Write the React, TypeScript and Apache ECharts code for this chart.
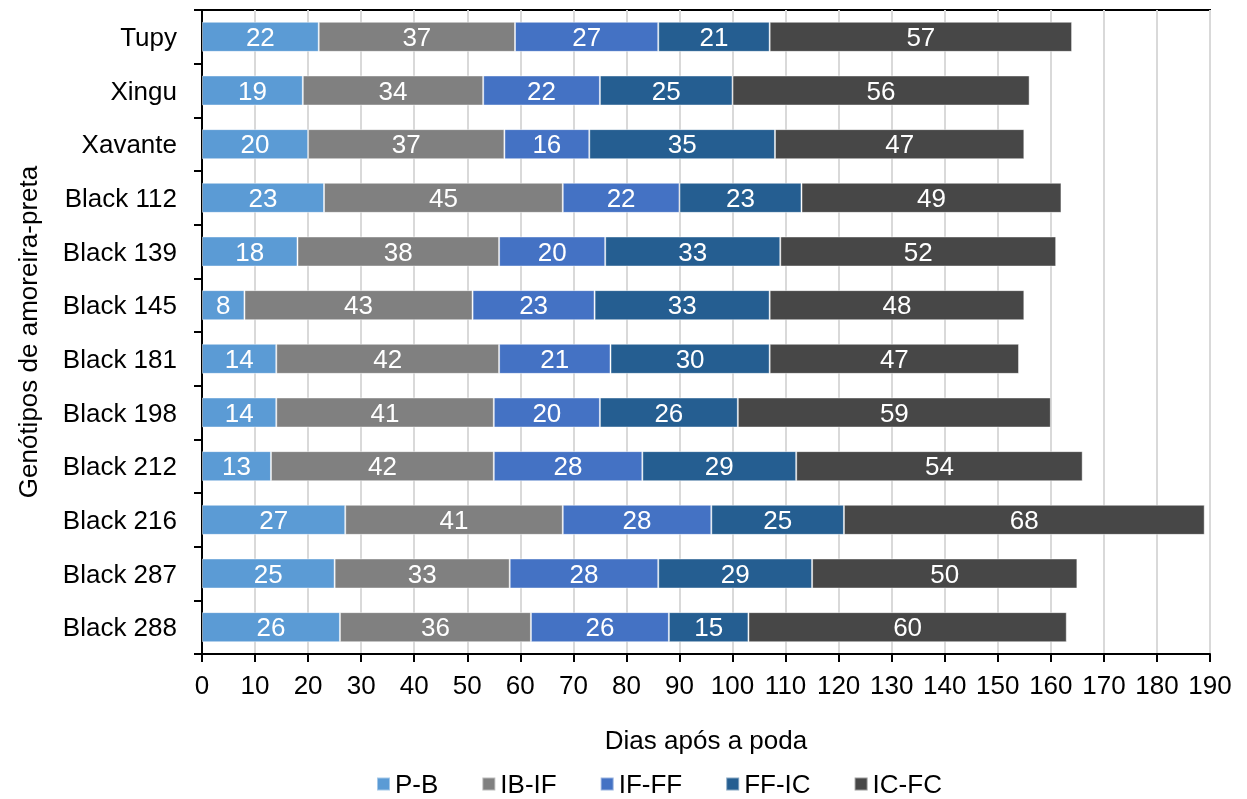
import React, { useEffect, useRef } from "react";
import * as echarts from "echarts";

const categories = ["Tupy", "Xingu", "Xavante", "Black 112", "Black 139", "Black 145", "Black 181", "Black 198", "Black 212", "Black 216", "Black 287", "Black 288"];
const seriesNames = ["P-B", "IB-IF", "IF-FF", "FF-IC", "IC-FC"];
const pB = [22, 19, 20, 23, 18, 8, 14, 14, 13, 27, 25, 26];
const ibIf = [37, 34, 37, 45, 38, 43, 42, 41, 42, 41, 33, 36];
const ifFf = [27, 22, 16, 22, 20, 23, 21, 20, 28, 28, 28, 26];
const ffIc = [21, 25, 35, 23, 33, 33, 30, 26, 29, 25, 29, 15];
const icFc = [57, 56, 47, 49, 52, 48, 47, 59, 54, 68, 50, 60];
const colors = ["#5B9BD5", "#808080", "#4472C4", "#255E91", "#474747"];

const FONT = "'Liberation Sans', Arial, sans-serif";
const FS = 26;

export default function App() {
  const ref = useRef<HTMLDivElement>(null);
  useEffect(() => {
    const chart = echarts.init(ref.current!, null, { renderer: "svg" });
    const values = [pB, ibIf, ifFf, ffIc, icFc];
    chart.setOption({
      animation: false,
      textStyle: { fontFamily: FONT },
      grid: { left: 202, right: 37, top: 10, bottom: 145, show: true, borderColor: "#000", borderWidth: 2, backgroundColor: "transparent" },
      legend: {
        data: seriesNames,
        top: 771,
        left: 376,
        padding: 0,
        icon: "rect",
        itemWidth: 13,
        itemHeight: 13,
        itemGap: 43,
        textStyle: { fontSize: FS, color: "#000", fontFamily: FONT, lineHeight: 26 },
      },
      xAxis: {
        type: "value",
        min: 0,
        max: 190,
        interval: 10,
        name: "Dias após a poda",
        nameLocation: "middle",
        nameGap: 73,
        nameTextStyle: { fontSize: FS, color: "#000", fontFamily: FONT },
        axisLine: { show: true, lineStyle: { color: "#000", width: 2 } },
        axisTick: { show: true, length: 8, lineStyle: { color: "#000", width: 2 } },
        axisLabel: { fontSize: FS, color: "#000", margin: 18, fontFamily: FONT },
        splitLine: { show: true, lineStyle: { color: "#D9D9D9", width: 2 } },
      },
      yAxis: {
        type: "category",
        data: categories,
        inverse: true,
        name: "Genótipos de amoreira-preta",
        nameLocation: "middle",
        nameGap: 161,
        nameRotate: 90,
        nameTextStyle: { fontSize: FS, color: "#000", fontFamily: FONT },
        axisLine: { show: true, lineStyle: { color: "#000", width: 2 } },
        axisTick: { show: true, length: 8, lineStyle: { color: "#000", width: 2 } },
        axisLabel: { fontSize: FS, color: "#000", margin: 25, fontFamily: FONT },
        splitLine: { show: false },
      },
      series: seriesNames.map((name, i) => ({
        name,
        type: "bar",
        stack: "total",
        barCategoryGap: "44%",
        data: values[i],
        itemStyle: { color: colors[i], borderColor: "rgba(255,255,255,0.45)", borderWidth: 1 },
        label: {
          show: true,
          position: "inside",
          color: "#fff",
          fontSize: FS,
          fontFamily: FONT,
        },
      })),
    });
    return () => chart.dispose();
  }, []);
  return <div ref={ref} style={{ position: "fixed", left: 0, top: 0, width: 1247, height: 799 }} />;
}
